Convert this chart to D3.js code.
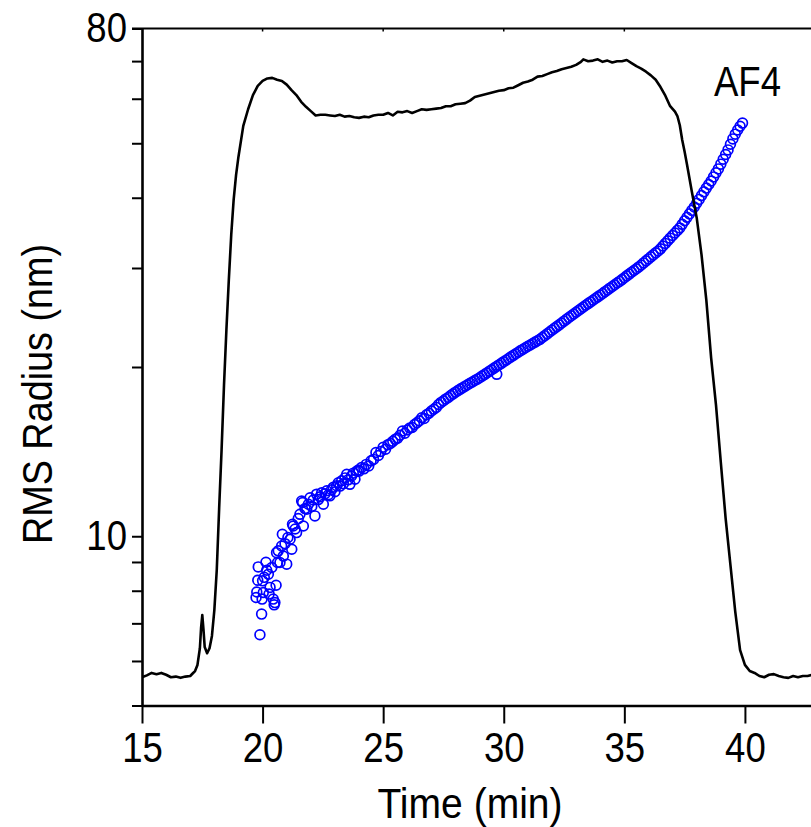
<!DOCTYPE html>
<html>
<head>
<meta charset="utf-8">
<script src="https://cdn.jsdelivr.net/npm/d3@7"></script>
<style>
  body { margin: 0; background: #fff; }
  svg text { font-family: "Liberation Sans", Arial, sans-serif; fill: #000; }
</style>
</head>
<body>
<div id="chart"></div>
<script>
// ---- data ---------------------------------------------------------------

// x axis (elution time, min)
const xTicks = [15, 20, 25, 30, 35, 40]
// y axis (RMS radius, nm) - log scale, only two labels
const yTicks = [5, 6, 7, 8, 9, 10, 20, 30, 40, 50, 60, 70, 80]
const yLabels = [10, 80]
const topTicks = [20, 25, 30, 35]

const xTitle = "Time (min)"
const yTitle = "RMS Radius (nm)"
const seriesLabel = "AF4"

// detector trace [time, normalised signal] (own hidden linear axis)
const lsTrace = [
  [15.0,-0.002],[15.2,0.001],[15.4,0.005],[15.6,0.003],[15.8,0.005],[16.0,0.002],
  [16.2,-0.002],[16.4,-0.001],[16.6,-0.003],[16.8,-0.001],[17.0,0.000],[17.1,0.004],
  [17.2,0.008],[17.3,0.018],[17.4,0.045],[17.45,0.078],[17.5,0.099],[17.55,0.075],
  [17.6,0.047],[17.7,0.037],[17.8,0.045],[17.9,0.065],[18.0,0.107],[18.1,0.172],
  [18.2,0.273],[18.3,0.367],[18.4,0.472],[18.5,0.562],[18.6,0.643],[18.7,0.716],
  [18.8,0.773],[18.9,0.813],[19.0,0.843],[19.2,0.893],[19.4,0.920],[19.6,0.943],
  [19.8,0.958],[20.0,0.966],[20.2,0.970],[20.4,0.971],[20.6,0.968],[20.8,0.966],
  [21.0,0.960],[21.2,0.951],[21.4,0.943],[21.6,0.932],[21.8,0.924],[22.0,0.917],
  [22.2,0.910],[22.4,0.911],[22.6,0.911],[22.8,0.910],[23.0,0.909],[23.2,0.911],
  [23.4,0.908],[23.6,0.909],[23.8,0.907],[24.0,0.906],[24.2,0.908],[24.4,0.907],
  [24.6,0.910],[24.8,0.911],[25.0,0.911],[25.2,0.914],[25.4,0.910],[25.6,0.916],
  [25.8,0.915],[26.0,0.917],[26.2,0.914],[26.4,0.917],[26.6,0.920],[26.8,0.919],
  [27.0,0.920],[27.2,0.921],[27.4,0.922],[27.6,0.925],[27.8,0.925],[28.0,0.928],
  [28.2,0.929],[28.4,0.930],[28.6,0.934],[28.8,0.940],[29.0,0.942],[29.2,0.944],
  [29.4,0.946],[29.6,0.948],[29.8,0.950],[30.0,0.951],[30.2,0.954],[30.4,0.955],
  [30.6,0.959],[30.8,0.963],[31.0,0.965],[31.2,0.968],[31.4,0.973],[31.6,0.974],
  [31.8,0.977],[32.0,0.980],[32.2,0.982],[32.4,0.985],[32.6,0.987],[32.8,0.989],
  [33.0,0.992],[33.2,0.997],[33.3,1.001],[33.5,0.998],[33.7,0.999],[33.9,1.001],
  [34.1,0.997],[34.3,0.999],[34.5,0.996],[34.7,0.998],[34.9,0.998],[35.1,1.000],
  [35.3,0.995],[35.5,0.990],[35.7,0.986],[35.9,0.981],[36.1,0.975],[36.3,0.968],
  [36.5,0.956],[36.7,0.942],[36.9,0.925],[37.1,0.916],[37.2,0.909],[37.3,0.894],
  [37.4,0.870],[37.5,0.851],[37.6,0.830],[37.8,0.786],[38.0,0.744],[38.2,0.684],
  [38.4,0.610],[38.6,0.516],[38.8,0.440],[39.0,0.347],[39.2,0.256],[39.4,0.180],
  [39.6,0.104],[39.8,0.042],[40.0,0.018],[40.2,0.008],[40.4,0.005],[40.6,0.000],
  [40.8,-0.002],[41.0,0.002],[41.2,0.003],[41.4,0.000],[41.6,-0.002],[41.8,-0.003],
  [42.0,0.000],[42.2,-0.002],[42.4,0.000],[42.6,0.000],[42.8,0.002]
]

// RMS radius slices [time, radius nm]
const rmsPoints = [
  [19.73,7.78],[19.76,7.96],[19.80,8.35],[19.82,8.82],[19.89,6.68],[19.96,7.27],
  [19.98,7.73],[20.00,8.33],[20.03,7.94],[20.07,8.45],[20.14,8.99],[20.17,8.70],
  [20.24,8.56],[20.27,7.89],[20.31,8.11],[20.38,8.80],[20.44,7.73],[20.48,7.55],
  [20.51,7.62],[20.56,8.18],[20.58,9.35],[20.62,8.98],[20.65,9.42],[20.72,8.98],
  [20.79,9.61],[20.82,10.08],[20.86,9.22],[20.93,9.70],[21.00,8.92],[21.05,9.95],
  [21.14,9.88],[21.21,9.48],[21.24,10.50],[21.27,10.43],[21.35,10.30],[21.41,10.15],
  [21.48,10.75],[21.55,10.94],[21.62,11.55],[21.66,11.48],[21.69,10.43],[21.76,11.20],
  [21.83,11.17],[21.90,11.40],[21.97,11.71],[22.04,11.30],[22.10,11.60],[22.17,10.87],
  [22.24,11.88],[22.31,11.62],[22.38,11.75],[22.45,11.95],[22.52,11.40],[22.59,11.90],
  [22.66,12.05],[22.73,11.85],[22.79,11.80],[22.86,12.10],[22.93,12.22],[23.00,12.00],
  [23.07,12.30],[23.14,12.45],[23.21,12.28],[23.28,12.55],[23.35,12.40],[23.42,12.70],
  [23.49,12.89],[23.55,12.60],[23.62,12.37],[23.69,12.80],[23.76,12.95],[23.83,12.63],
  [23.90,13.05],[23.97,13.12],
  [24.0,13.05],[24.1,13.25],[24.2,13.18],[24.3,13.42],[24.4,13.34],[24.5,13.62],
  [24.6,13.70],[24.7,14.09],[24.8,13.92],[24.9,14.15],[25.0,14.40],[25.1,14.28],
  [25.2,14.55],[25.3,14.62],[25.4,14.75],[25.5,14.87],[25.6,14.95],[25.7,15.12],
  [25.8,15.39],[25.9,15.25],[26.0,15.45],[26.1,15.58],[26.2,15.61],[26.3,15.80],
  [26.4,15.92],[26.5,16.05],[26.6,16.25],[26.7,16.20],[26.8,16.45],[26.9,16.55],
  [27.0,16.70],[27.1,16.82],[27.2,16.95],[27.3,17.15],[27.4,17.30],[27.5,17.42],
  [27.6,17.55],[27.7,17.65],[27.8,17.80],[27.9,17.92],
  [28.0,18.04],[28.1,18.16],[28.2,18.27],[28.3,18.38],[28.4,18.49],[28.5,18.60],
  [28.6,18.71],[28.7,18.81],[28.8,18.92],[28.9,19.03],[29.0,19.14],[29.1,19.27],
  [29.2,19.39],[29.3,19.52],[29.4,19.65],[29.5,19.78],[29.6,19.91],[29.7,20.04],
  [29.71,19.41],[29.8,20.17],[29.9,20.30],[30.0,20.44],[30.1,20.57],[30.2,20.71],
  [30.3,20.85],[30.4,20.98],[30.5,21.12],[30.6,21.25],[30.7,21.39],[30.8,21.51],
  [30.9,21.64],[31.0,21.77],[31.1,21.89],[31.2,22.02],[31.3,22.15],[31.4,22.27],
  [31.5,22.40],[31.6,22.57],[31.7,22.74],[31.8,22.91],[31.9,23.08],[32.0,23.26],
  [32.1,23.43],[32.2,23.60],[32.3,23.77],[32.4,23.95],[32.5,24.13],[32.6,24.31],
  [32.7,24.49],[32.8,24.67],[32.9,24.85],[33.0,25.03],[33.1,25.21],[33.2,25.39],
  [33.3,25.57],[33.4,25.75],[33.5,25.93],[33.6,26.11],[33.7,26.29],[33.8,26.48],
  [33.9,26.66],[34.0,26.84],[34.1,27.03],[34.2,27.23],[34.3,27.42],[34.4,27.62],
  [34.5,27.81],[34.6,28.01],[34.7,28.21],[34.8,28.40],[34.9,28.61],[35.0,28.83],
  [35.1,29.05],[35.2,29.26],[35.3,29.48],[35.4,29.70],[35.5,29.91],[35.6,30.13],
  [35.7,30.37],[35.8,30.63],[35.9,30.89],[36.0,31.14],[36.1,31.40],[36.2,31.66],
  [36.3,31.92],[36.4,32.17],[36.5,32.45],[36.6,32.82],[36.7,33.18],[36.8,33.54],
  [36.9,33.90],[37.0,34.27],[37.1,34.63],[37.2,34.99],[37.3,35.35],[37.4,35.87],
  [37.5,36.40],[37.6,36.92],[37.7,37.45],[37.8,37.98],[37.9,38.51],[38.0,39.11],
  [38.1,39.73],[38.2,40.36],[38.3,40.98],[38.4,41.61],[38.5,42.24],[38.6,42.84],
  [38.7,43.57],[38.8,44.29],[38.9,45.02],[39.0,45.90],[39.1,46.82],[39.2,47.74],
  [39.3,48.66],[39.4,49.8],[39.5,50.9],[39.6,51.9],[39.7,52.8],[39.8,53.6],[39.9,54.3]
]

class radiusViz {
  constructor(trace, points, parentElement){
    this.trace = trace
    this.points = points
    this.parentElement = parentElement
    this.initVis()
  }

  initVis(){
    let vis = this;

    // SET UP SVG _________________________
    vis.fullWidth = 811
    vis.fullHeight = 827
    vis.left = 142
    vis.right = 811
    vis.top = 28.5
    vis.bottom = 705.5
    vis.squeeze = 0.87   // the original lettering is a little condensed

    vis.svg = d3.select("#" + vis.parentElement).append("svg")
        .attr("width", vis.fullWidth)
        .attr("height", vis.fullHeight)

    // scales
    vis.xScale = d3.scaleLinear()
        .domain([15, 42.74])
        .range([vis.left, vis.right])

    vis.yScale = d3.scaleLog()
        .domain([5, 80])
        .range([vis.bottom, vis.top])

    // detector signal has no drawn axis, normalised baseline 0 -> plateau 1
    vis.sigScale = d3.scaleLinear()
        .domain([-0.0479, 1.0511])
        .range([vis.bottom, vis.top])

    vis.xAxis = d3.axisBottom(vis.xScale)
        .tickValues(xTicks)
        .tickSize(18)
        .tickSizeOuter(0)
        .tickPadding(9)

    vis.yAxis = d3.axisLeft(vis.yScale)
        .tickValues(yTicks)
        .tickSize(10)
        .tickSizeOuter(0)
        .tickPadding(5)
        .tickFormat(d => yLabels.includes(d) ? d : "")

    vis.lineGenerator = d3.line()
        .x(d => vis.xScale(d[0]))
        .y(d => vis.sigScale(d[1]))

    vis.updateVis()
  }

  updateVis(){
    let vis = this;

    vis.svg.append("defs").append("clipPath")
        .attr("id", "clipPlot")
        .append("rect")
        .attr("x", vis.left)
        .attr("y", vis.top)
        .attr("width", vis.right - vis.left)
        .attr("height", vis.bottom - vis.top)

    // RMS radius circles
    vis.svg.append("g")
        .attr("clip-path", "url(#clipPlot)")
        .selectAll("circle")
        .data(vis.points)
        .join("circle")
        .attr("cx", d => vis.xScale(d[0]))
        .attr("cy", d => vis.yScale(d[1]))
        .attr("r", 4.9)
        .style("fill", "none")
        .style("stroke", "#0000ff")
        .style("stroke-width", 1.7)

    // fractogram trace on top
    vis.svg.append("path")
        .datum(vis.trace)
        .attr("d", vis.lineGenerator)
        .attr("clip-path", "url(#clipPlot)")
        .style("fill", "none")
        .style("stroke", "#000")
        .style("stroke-width", 2.6)
        .style("stroke-linejoin", "round")

    // AXES _________________________
    let xg = vis.svg.append("g")
        .attr("transform", `translate(0,${vis.bottom})`)
        .call(vis.xAxis)
    let yg = vis.svg.append("g")
        .attr("transform", `translate(${vis.left},0)`)
        .call(vis.yAxis)

    ;[xg, yg].forEach(g => {
      g.select(".domain").style("stroke", "#000").style("stroke-width", 2.6)
      g.selectAll(".tick line").style("stroke", "#000").style("stroke-width", 2)
      g.selectAll(".tick text")
          .attr("font-size", 42)
          .attr("fill", "#000")
    })
    xg.selectAll(".tick text").attr("transform", `scale(${vis.squeeze},1)`)
    yg.selectAll(".tick text")
        .attr("x", null)
        .attr("transform", `translate(-15,0) scale(${vis.squeeze},1)`)

    // top frame with small inward ticks
    vis.svg.append("line")
        .attr("x1", vis.left - 10).attr("x2", vis.right)
        .attr("y1", vis.top).attr("y2", vis.top)
        .style("stroke", "#000").style("stroke-width", 2)
    vis.svg.append("g").selectAll("line")
        .data(topTicks)
        .join("line")
        .attr("x1", d => vis.xScale(d)).attr("x2", d => vis.xScale(d))
        .attr("y1", vis.top).attr("y2", vis.top + 3)
        .style("stroke", "#000").style("stroke-width", 1.5)

    // TITLES _________________________
    vis.svg.append("text")
        .attr("transform", `translate(470,818) scale(0.93,1)`)
        .attr("text-anchor", "middle")
        .attr("font-size", 42)
        .text(xTitle)

    vis.svg.append("text")
        .attr("transform", `translate(52,394) rotate(-90) scale(0.9,1)`)
        .attr("text-anchor", "middle")
        .attr("font-size", 42)
        .text(yTitle)

    vis.svg.append("text")
        .attr("transform", `translate(714,96) scale(${vis.squeeze},1)`)
        .attr("font-size", 42)
        .text(seriesLabel)
  }
}

new radiusViz(lsTrace, rmsPoints, "chart")
</script>
</body>
</html>
